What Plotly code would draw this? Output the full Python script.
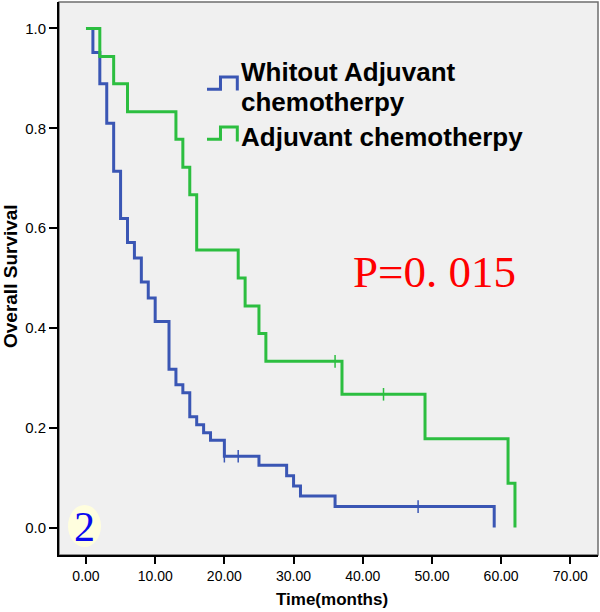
import plotly.graph_objects as go

# ---- data ----
without_times = [0, 1, 2, 3, 4, 5, 6, 7, 8, 9, 10, 12, 13, 14, 15, 16, 17, 18, 20, 25, 29, 30, 31, 36, 59]
without_surv = [1.0, 0.952, 0.889, 0.810, 0.714, 0.619, 0.571, 0.540, 0.492, 0.460, 0.413, 0.317,
                0.286, 0.270, 0.222, 0.206, 0.190, 0.175, 0.143, 0.125, 0.104, 0.083, 0.063, 0.042, 0.0]
without_cens_t = [20, 22, 48]
without_cens_s = [0.143, 0.143, 0.042]

with_times = [0, 2, 4, 6, 13, 14, 15, 16, 22, 23, 25, 26, 37, 49, 61, 62]
with_surv = [1.0, 0.944, 0.889, 0.833, 0.778, 0.722, 0.667, 0.556, 0.500, 0.444, 0.389, 0.333,
             0.267, 0.178, 0.089, 0.0]
with_cens_t = [36, 43]
with_cens_s = [0.333, 0.267]

x_ticks = [0, 10, 20, 30, 40, 50, 60, 70]
x_tick_labels = ["0.00", "10.00", "20.00", "30.00", "40.00", "50.00", "60.00", "70.00"]
y_ticks = [0.0, 0.2, 0.4, 0.6, 0.8, 1.0]
y_tick_labels = ["0.0", "0.2", "0.4", "0.6", "0.8", "1.0"]

legend_labels = ["Whitout Adjuvant", "chemotherpy", "Adjuvant chemotherpy"]
p_text = "P=0. 015"
panel_label = "2"

BLUE = "rgb(58,86,180)"
GREEN = "rgb(44,190,64)"

W, H = 600, 612
L, R, T, B = 59, 2, 2, 57
PW, PH = W - L - R, H - T - B


def pp(xp, yp):
    """pixel -> paper coordinates"""
    return (xp - L) / PW, (H - B - yp) / PH


fig = go.Figure()
fig.add_trace(go.Scatter(x=without_times, y=without_surv, mode="lines", line_shape="hv",
                         line=dict(color=BLUE, width=3), showlegend=False, hoverinfo="skip"))
fig.add_trace(go.Scatter(x=with_times, y=with_surv, mode="lines", line_shape="hv",
                         line=dict(color=GREEN, width=3), showlegend=False, hoverinfo="skip"))
fig.add_trace(go.Scatter(x=without_cens_t, y=without_cens_s, mode="markers",
                         marker=dict(symbol="line-ns", size=9, line=dict(color=BLUE, width=1.5)),
                         showlegend=False, hoverinfo="skip"))
fig.add_trace(go.Scatter(x=with_cens_t, y=with_cens_s, mode="markers",
                         marker=dict(symbol="line-ns", size=9, line=dict(color=GREEN, width=1.5)),
                         showlegend=False, hoverinfo="skip"))

shapes = []
# plot frame (gray top/right)
shapes.append(dict(type="rect", xref="paper", yref="paper", x0=0, y0=0, x1=1, y1=1,
                   line=dict(color="rgb(110,110,110)", width=1.5), layer="below"))


def path_from_px(pts):
    s = ""
    for i, (xp, yp) in enumerate(pts):
        x, y = pp(xp, yp)
        s += ("M" if i == 0 else "L") + f"{x:.4f},{y:.4f} "
    return s


shapes.append(dict(type="path", xref="paper", yref="paper",
                   path=path_from_px([(207, 89.3), (220.5, 89.3), (220.5, 77), (237.3, 77), (237.3, 90.5)]),
                   line=dict(color=BLUE, width=3)))
shapes.append(dict(type="path", xref="paper", yref="paper",
                   path=path_from_px([(207, 139.3), (220.5, 139.3), (220.5, 127), (237.3, 127), (237.3, 141.5)]),
                   line=dict(color=GREEN, width=3)))
# pale glow behind the panel number
gx0, gy0 = pp(68, 505)
gx1, gy1 = pp(101, 547)
shapes.append(dict(type="circle", xref="paper", yref="paper", x0=gx0, y0=gy1, x1=gx1, y1=gy0,
                   fillcolor="rgb(255,254,222)", line=dict(width=0), layer="below"))

ann = []
for text, (xp, yp) in zip(legend_labels, [(238.5, 71.5), (238.5, 101.5), (238.5, 137)]):
    x, y = pp(xp, yp)
    ann.append(dict(text=f"<b>{text}</b>", xref="paper", yref="paper", x=x, y=y,
                    xanchor="left", yanchor="middle", showarrow=False,
                    font=dict(family="Liberation Sans, Arial", size=26, color="black")))
x, y = pp(435, 272)
ann.append(dict(text=p_text, xref="paper", yref="paper", x=x, y=y, xanchor="center", yanchor="middle",
                showarrow=False, font=dict(family="Liberation Serif, Times New Roman", size=45, color="red")))
x, y = pp(84.5, 527)
ann.append(dict(text=panel_label, xref="paper", yref="paper", x=x, y=y, xanchor="center", yanchor="middle",
                showarrow=False, font=dict(family="Liberation Serif, Times New Roman", size=42, color="rgb(10,10,240)")))
# axis titles
x, y = pp(10, 276)
ann.append(dict(text="<b>Overall Survival</b>", xref="paper", yref="paper", x=x, y=y,
                xanchor="center", yanchor="middle", textangle=-90, showarrow=False,
                font=dict(family="Liberation Sans, Arial", size=19, color="black")))
x, y = pp(332, 599)
ann.append(dict(text="<b>Time(months)</b>", xref="paper", yref="paper", x=x, y=y,
                xanchor="center", yanchor="middle", showarrow=False,
                font=dict(family="Liberation Sans, Arial", size=17, color="black")))

fig.update_layout(
    width=W, height=H,
    margin=dict(l=L, r=R, t=T, b=B, pad=0),
    paper_bgcolor="white", plot_bgcolor="rgb(240,240,240)",
    shapes=shapes, annotations=ann,
    xaxis=dict(range=[-3.9, 74.0], tickmode="array", tickvals=x_ticks, ticktext=x_tick_labels,
               showgrid=False, zeroline=False, showline=True, linecolor="black", linewidth=2,
               ticks="outside", ticklen=7, tickwidth=1.5, tickcolor="black",
               tickfont=dict(family="Liberation Sans, Arial", size=14, color="black")),
    yaxis=dict(range=[-0.055, 1.053], tickmode="array", tickvals=y_ticks, ticktext=y_tick_labels,
               showgrid=False, zeroline=False, showline=True, linecolor="black", linewidth=2,
               ticks="outside", ticklen=8, tickwidth=1.5, tickcolor="black",
               tickfont=dict(family="Liberation Sans, Arial", size=15, color="black")),
)

fig.write_html("out.html", config={"displayModeBar": False},
               post_script="document.body.style.margin='0';document.body.style.overflow='hidden';")
